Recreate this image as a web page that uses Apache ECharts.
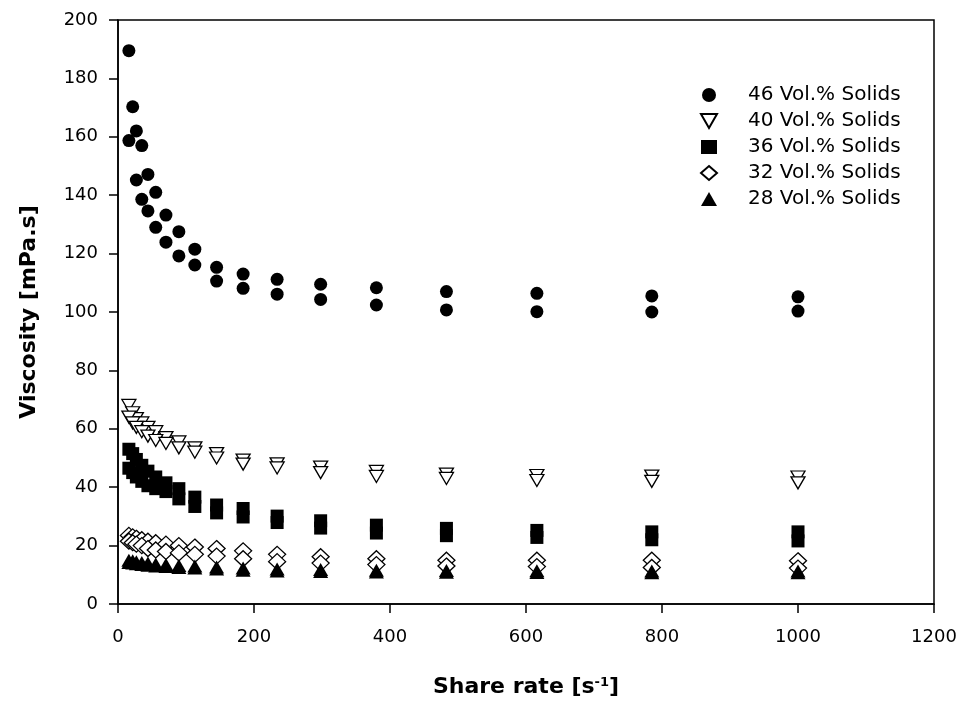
<!DOCTYPE html>
<html>
<head>
<meta charset="utf-8">
<title>Viscosity vs share rate</title>
<script src="https://cdn.jsdelivr.net/npm/echarts@6/dist/echarts.min.js"></script>
<style>
  html, body { margin: 0; padding: 0; background: #fff; }
  #chart { width: 961px; height: 707px; }
</style>
</head>
<body>
<div id="chart"></div>
<script>
// share rate [1/s], same grid for every run
const shareRate = [16, 21.6, 27, 35, 44, 55.5, 70.5, 89.5, 113, 145, 184, 234, 298, 380, 483, 616, 785, 1000];

// two runs per suspension (upper / lower curve), mPa.s
const s46Up   = [189.5, 170.3, 162, 157, 147.1, 141, 133.2, 127.5, 121.5, 115.3, 113, 111.2, 109.5, 108.3, 107, 106.4, 105.5, 105.2];
const s46Down = [158.7, null, 145.2, 138.6, 134.6, 129, 123.9, 119.2, 116.1, 110.6, 108.1, 106.1, 104.3, 102.4, 100.7, 100.1, 100, 100.3];
const s40Up   = [68, 65.5, 63.5, 62, 60.5, 59, 57, 55.5, 53.5, 51.5, 49.3, 48, 46.9, 45.4, 44.5, 44, 43.8, 43.5];
const s40Down = [64, 62, 60.5, 59, 57.5, 56, 55, 53.5, 52, 50, 47.9, 46.6, 45, 43.7, 43, 42.3, 42, 41.5];
const s36Up   = [53, 51.5, 49.5, 47.5, 45.5, 43.5, 41.5, 39.5, 36.6, 33.9, 32.7, 30.1, 28.5, 27, 25.9, 25.2, 24.7, 24.7];
const s36Down = [46.5, 45, 43.5, 42, 40.5, 39.5, 38.5, 36, 33.4, 31.2, 29.8, 27.9, 26, 24.3, 23.4, 22.8, 22, 21.6];
const s32Up   = [23.5, 23, 22.5, 22, 21.5, 21, 20.5, 20, 19.5, 19, 18.2, 17, 16.2, 15.5, 15, 15, 15, 14.8];
const s32Down = [21.5, 21, 20.5, 20, 19, 18.5, 18, 17.5, 17, 16.4, 15.5, 14.5, 14, 13.5, 13, 12.8, 12.5, 12.3];
const s28Up   = [15, 14.8, 14.5, 14.2, 14, 13.7, 13.5, 13.2, 13, 12.7, 12.3, 12, 11.8, 11.6, 11.5, 11.4, 11.3, 11.3];
const s28Down = [14.2, 14, 13.8, 13.5, 13.3, 13, 12.8, 12.5, 12.3, 12, 11.6, 11.3, 11.1, 11, 10.9, 10.8, 10.7, 10.7];

const xTicks = { min: 0, max: 1200, interval: 200 };
const yTicks = { min: 0, max: 200, interval: 20 };

const FONT = 'DejaVu Sans';
const TRIANGLE_DOWN = 'path://M0,0L12,0L6,10.4Z';

function pairs(ys) {
  return shareRate.map((x, i) => [x, ys[i]]).filter((p) => p[1] != null);
}

function runs(up, down) {
  // lower run is drawn last, on top
  return pairs(up).concat(pairs(down));
}

const solid = { color: '#000', opacity: 1 };
const hollow = { color: '#fff', borderColor: '#000', borderWidth: 1.3, opacity: 1 };

const chart = echarts.init(document.getElementById('chart'));

chart.setOption({
  animation: false,
  backgroundColor: '#fff',
  grid: {
    left: 118,
    right: 27,
    top: 20,
    bottom: 103,
    containLabel: false,
    outerBoundsMode: 'none',
    show: true,
    borderColor: '#000',
    borderWidth: 1.5,
  },
  legend: {
    orient: 'vertical',
    left: 695,
    top: 80,
    itemWidth: 16,
    itemHeight: 14,
    itemGap: 6,
    textStyle: {
      fontFamily: FONT,
      fontSize: 20,
      color: '#000',
      lineHeight: 20,
      padding: [0, 0, 0, 26],
    },
  },
  xAxis: {
    type: 'value',
    ...xTicks,
    name: '{t|Share rate [s}{s|-1}{t|]}',
    nameLocation: 'middle',
    nameGap: 72,
    nameTextStyle: {
      rich: {
        t: { fontFamily: FONT, fontSize: 22, fontWeight: 'bold', color: '#000' },
        s: { fontFamily: FONT, fontSize: 13, fontWeight: 'bold', color: '#000', verticalAlign: 'top' },
      },
    },
    axisLine: { onZero: false, lineStyle: { color: '#000', width: 1.5 } },
    axisTick: { length: 9, lineStyle: { color: '#000', width: 1.5 } },
    axisLabel: {
      margin: 24,
      fontFamily: FONT,
      fontSize: 18,
      color: '#000',
      formatter: (v) => String(v),
    },
    splitLine: { show: false },
  },
  yAxis: {
    type: 'value',
    ...yTicks,
    name: 'Viscosity [mPa.s]',
    nameLocation: 'middle',
    nameGap: 78,
    nameTextStyle: { fontFamily: FONT, fontSize: 22, fontWeight: 'bold', color: '#000' },
    axisLine: { onZero: false, lineStyle: { color: '#000', width: 1.5 } },
    axisTick: { length: 9, lineStyle: { color: '#000', width: 1.5 } },
    axisLabel: { margin: 20, fontFamily: FONT, fontSize: 18, color: '#000' },
    splitLine: { show: false },
  },
  series: [
    {
      name: '46 Vol.% Solids',
      type: 'scatter',
      symbol: 'circle',
      symbolSize: 13,
      itemStyle: solid,
      data: runs(s46Up, s46Down),
    },
    {
      name: '40 Vol.% Solids',
      type: 'scatter',
      symbol: TRIANGLE_DOWN,
      symbolSize: [14, 12],
      itemStyle: hollow,
      data: runs(s40Up, s40Down),
    },
    {
      name: '36 Vol.% Solids',
      type: 'scatter',
      symbol: 'rect',
      symbolSize: 13,
      itemStyle: solid,
      data: runs(s36Up, s36Down),
    },
    {
      name: '32 Vol.% Solids',
      type: 'scatter',
      symbol: 'diamond',
      symbolSize: [17, 16],
      itemStyle: hollow,
      data: runs(s32Up, s32Down),
    },
    {
      name: '28 Vol.% Solids',
      type: 'scatter',
      symbol: 'triangle',
      symbolSize: [15, 13],
      itemStyle: solid,
      data: runs(s28Up, s28Down),
    },
  ],
});
</script>
</body>
</html>
